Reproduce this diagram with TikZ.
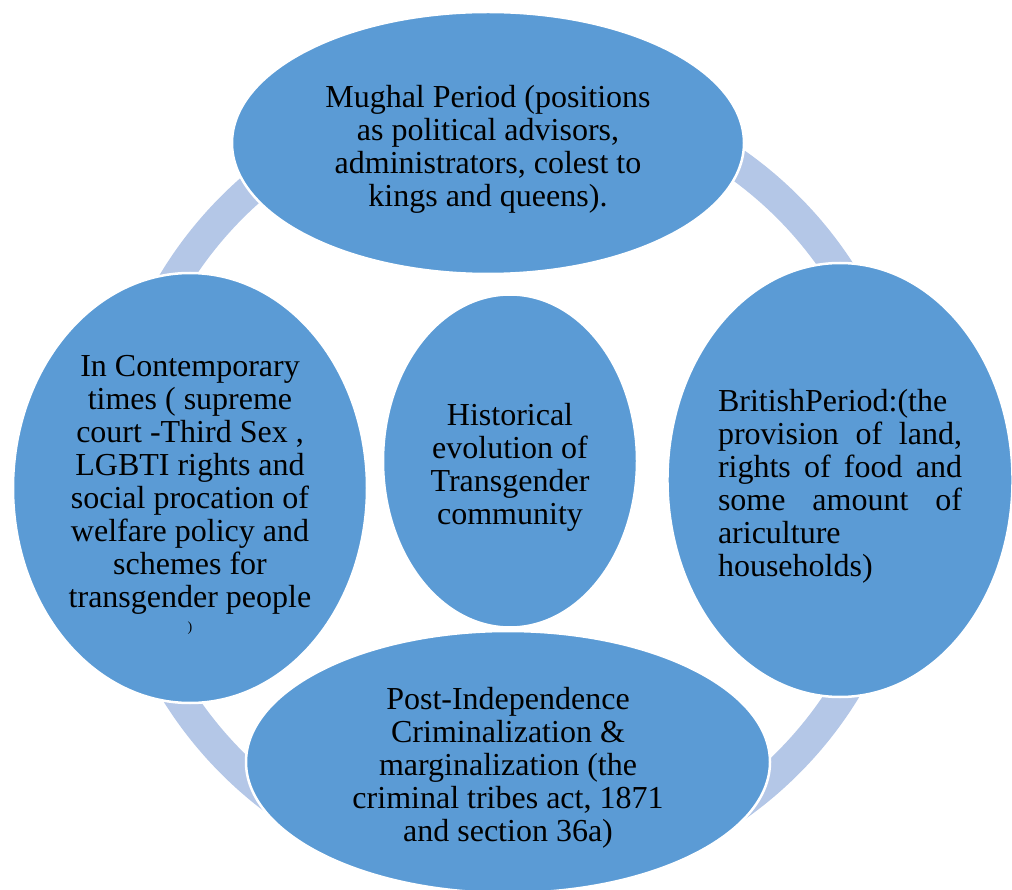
\documentclass[tikz,border=0pt]{standalone}
\usepackage{fontspec}
\setmainfont{Liberation Serif}
\usetikzlibrary{shapes.geometric}
\definecolor{bubbleblue}{HTML}{5B9BD5}
\definecolor{ringblue}{HTML}{B4C7E7}
\newcommand{\topstrut}{\rule{0pt}{34pt}}
\begin{document}
\begin{tikzpicture}[x=1pt, y=-1pt]
	\tikzstyle{bubble} = [ellipse, inner sep=0pt, draw=white, line width=2.5pt, fill=bubbleblue, font=\fontsize{32}{33}\selectfont, align=center]

	\clip (0,0) rectangle (1012,890);
	\useasboundingbox (0,0) rectangle (1012,890);

	% ring behind the bubbles
	\coordinate (hub) at (510,485);
	\draw[ringblue, line width=31pt] (hub) circle [radius=393pt];

	\node[bubble, minimum width=512pt, minimum height=262pt] (mughal) at (488,143)
		{\topstrut Mughal Period (positions\\ as political advisors,\\ administrators, colest to\\ kings and queens).};
	\node[bubble, minimum width=344pt, minimum height=434pt, text width=244pt, align=justify] (british) at (840,480)
		{\topstrut BritishPeriod:(the\\ provision of land,\linebreak rights of food and\linebreak some amount of\linebreak ariculture\\ households)};
	\node[bubble, minimum width=524pt, minimum height=262pt] (postindep) at (508,762)
		{\topstrut Post-Independence\\ Criminalization \&\\ marginalization (the\\ criminal tribes act, 1871\\ and section 36a)};
	\node[bubble, minimum width=354pt, minimum height=430pt] (contemporary) at (190,488)
		{\topstrut In Contemporary\\ times ( supreme\\ court -Third Sex ,\\ LGBTI rights and\\ social procation of\\ welfare policy and\\ schemes for\\ transgender people\\[-9pt] {\fontsize{14}{16}\selectfont )}};
	\node[bubble, minimum width=254pt, minimum height=333pt] (history) at (510,461)
		{\topstrut Historical\\ evolution of\\ Transgender\\ community};
\end{tikzpicture}
\end{document}
